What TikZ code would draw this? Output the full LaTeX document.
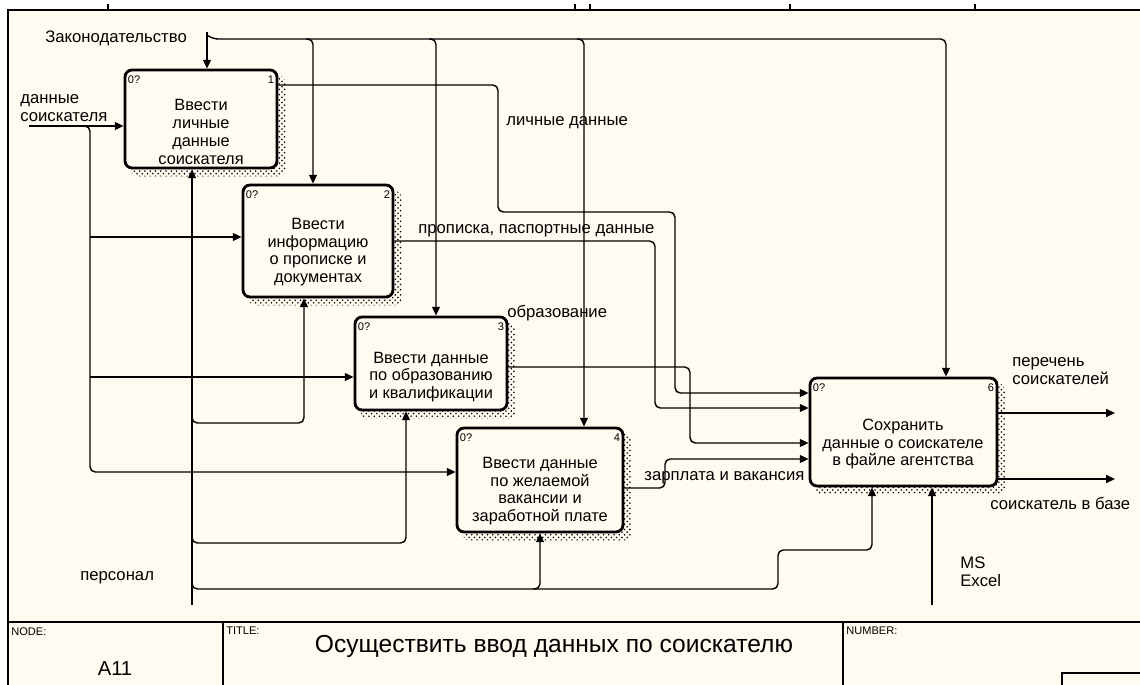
\documentclass[tikz,border=0pt]{standalone}
\usepackage{fontspec}
\setmainfont{Liberation Sans}
\usepackage{tikz}
\usetikzlibrary{arrows.meta,patterns,backgrounds}
\definecolor{idefpaper}{HTML}{FFFBF0}

\begin{document}
\begin{tikzpicture}[x=0.02cm, y=-0.02cm,
    >={Triangle[length=5pt,width=4.5pt]},
    idefbox/.style={draw, line width=1.6pt, rounded corners=4pt, fill=idefpaper, inner sep=0pt},
    boxshadow/.style={pattern=crosshatch dots, pattern color=black, rounded corners=4pt},
    boxtext/.style={align=center, inner sep=0pt, font=\fontsize{9.3}{10.1}\selectfont},
    flow/.style={line width=0.8pt, rounded corners=3pt},
    lbl/.style={anchor=west, align=left, inner sep=0pt, font=\fontsize{9.5}{10.2}\selectfont},
    tag/.style={inner sep=0pt, font=\fontsize{6.3}{7}\selectfont},
    frameline/.style={line width=0.6pt}]

  \useasboundingbox (0,0) rectangle (1140,685);

  % activity boxes
  \begin{scope}[every node/.style={idefbox}]
    \node[minimum width=3.04cm, minimum height=1.96cm] (B1) at (201,119) {};
    \node[minimum width=3.00cm, minimum height=2.24cm] (B2) at (318,241) {};
    \node[minimum width=3.04cm, minimum height=1.86cm] (B3) at (431,363.5) {};
    \node[minimum width=3.32cm, minimum height=2.08cm] (B4) at (540,480) {};
    \node[minimum width=3.74cm, minimum height=2.16cm] (B6) at (903.5,432) {};
  \end{scope}

  \node[boxtext] (T1) at (201,132) {Ввести\\личные\\данные\\соискателя};
  \node[boxtext] (T2) at (318,252) {Ввести\\информацию\\о прописке и\\документах};
  \node[boxtext] (T3) at (431,377) {Ввести данные\\по образованию\\и квалификации};
  \node[boxtext] (T4) at (540,491) {Ввести данные\\по желаемой\\вакансии и\\заработной плате};
  \node[boxtext] (T6) at (903,444) {Сохранить\\данные о соискателе\\в файле агентства};

  \foreach \bx/\n in {B1/1,B2/2,B3/3,B4/4,B6/6} {
    \node[tag, anchor=west] (z\n) at ([shift={(4,11)}]\bx.north west) {0?};
    \node[tag, anchor=east] (k\n) at ([shift={(-4,11)}]\bx.north east) {\n};
  }

  \begin{pgfonlayer}{background}
    \fill[white] (0,0) rectangle (1140,685);
    \fill[idefpaper] (8,10) rectangle (1140,685);
    \foreach \bx in {B1,B2,B3,B4,B6}
      \fill[boxshadow] ([shift={(7,7)}]\bx.north west) rectangle ([shift={(7,7)}]\bx.south east);
  \end{pgfonlayer}

  % frame
  \draw[frameline] (8,685) -- (8,10) -- (1140,10);
  \foreach \x in {108,575,590,790,975}
    \draw[frameline] (\x,10) -- (\x,4);

  % controls
  \coordinate (law) at (207,32);
  \draw[flow,->] (law) -- (law |- B1.north);
  \draw[flow,->] (law) ++(0,3) -- ++(6,4) -| (946,0 |- B6.north);
  \draw[flow,->] (306,39) -| (313,0 |- B2.north);
  \draw[flow,->] (429,39) -| (436,0 |- B3.north);
  \draw[flow,->] (577,39) -| (584,0 |- B4.north);

  % inputs
  \coordinate (inp) at (29,126);
  \draw[flow,->] (inp) -- (inp -| B1.west);
  \draw[flow,->] (83,126) -| (90,472) -- (B4.west |- 0,472);
  \draw[flow,->] (90,237) -- (B2.west |- 0,237);
  \draw[flow,->] (90,377) -- (B3.west |- 0,377);

  % mechanisms
  \coordinate (pers) at (192,605);
  \draw[flow,->] (pers) -- (pers |- B1.south);
  \draw[flow,->] (192,416) |- (304,423) -- (304,0 |- B2.south);
  \draw[flow,->] (192,536) |- (406,543) -- (406,0 |- B3.south);
  \draw[flow,->] (192,582) |- (778,589) |- (872,550) -- (872,0 |- B6.south);
  \draw[flow,->] (533,589) -| (540,0 |- B4.south);
  \coordinate (excel) at (932,605);
  \draw[flow,->] (excel) -- (excel |- B6.south);

  % outputs
  \draw[flow,->] (B1.east |- 0,85) -| (498,212) -| (675,393) -- (B6.west |- 0,393);
  \draw[flow,->] (B2.east |- 0,241) -| (655,408) -- (B6.west |- 0,408);
  \draw[flow,->] (B3.east |- 0,367) -| (690,443) -- (B6.west |- 0,443);
  \draw[flow,->] (B4.east |- 0,488) -| (665,459) -- (B6.west |- 0,459);
  \coordinate (out1) at (1115,413);
  \coordinate (out2) at (1115,479);
  \draw[flow,->] (B6.east |- out1) -- (out1);
  \draw[flow,->] (B6.east |- out2) -- (out2);

  % arrow labels
  \node[lbl] (Llaw) at (45,38) {Законодательство};
  \node[lbl] (Linp) at (20,108) {данные\\соискателя};
  \node[lbl] (Lpers) at (80,578) {персонал};
  \node[lbl] (Lo1) at (506,123) {личные данные};
  \node[lbl] (Lo2) at (418,231) {прописка, паспортные данные};
  \node[lbl] (Lo3) at (507,313) {образование};
  \node[lbl] (Lo4) at (644,478) {зарплата и вакансия};
  \node[lbl] (Lo6a) at (1012,371) {перечень\\соискателей};
  \node[lbl] (Lo6b) at (990,503) {соискатель в базе};
  \node[lbl] (Lexcel) at (960,572) {MS\\Excel};

  % title block
  \draw[frameline] (8,622) -- (1140,622);
  \draw[frameline] (223,622) -- (223,685);
  \draw[frameline] (843,622) -- (843,685);
  \draw[frameline] (1062,685) |- (1140,673);
  \node[tag, anchor=north west] (Hnode) at (11,627) {NODE:};
  \node[tag, anchor=north west] (Htitle) at (226,627) {TITLE:};
  \node[tag, anchor=north west] (Hnum) at (846,627) {NUMBER:};
  \node[inner sep=0pt, font=\fontsize{11.5}{12}\selectfont] (Nnode) at (115,669) {A11};
  \node[inner sep=0pt, font=\fontsize{14}{15}\selectfont] (Ntitle) at (554,646) {Осуществить ввод данных по соискателю};
\end{tikzpicture}
\end{document}
